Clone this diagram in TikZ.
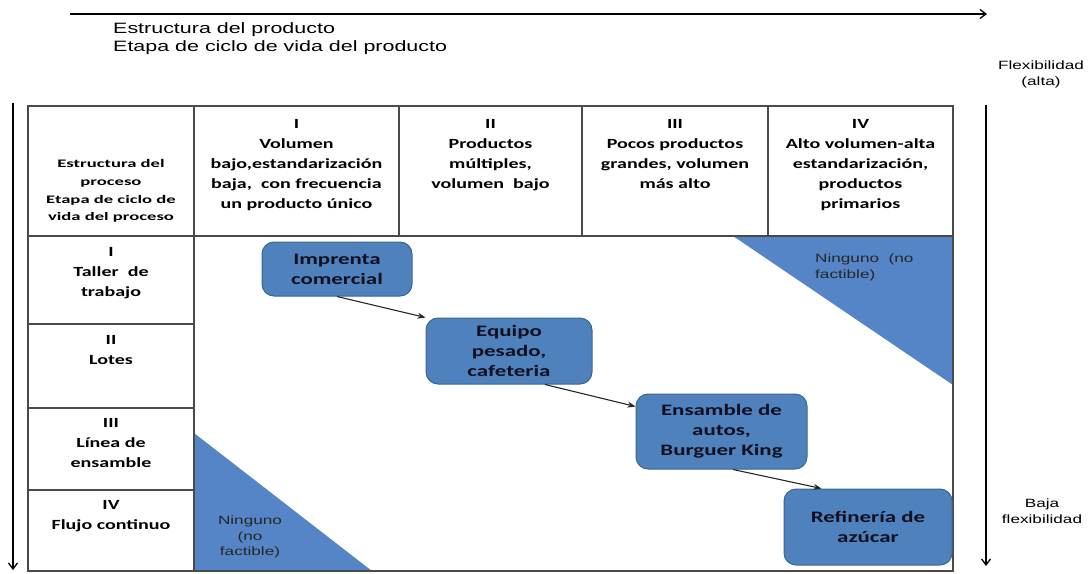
\documentclass[tikz,border=0pt]{standalone}
\usepackage{fontspec}
\setmainfont{Liberation Sans}
\newfontfamily\widesans[FakeStretch=1.43]{Liberation Sans}
\newfontfamily\cellfont[FakeStretch=1.43]{Carlito}
\newfontfamily\cornerfont[FakeStretch=1.62]{Carlito}
\usetikzlibrary{arrows.meta}
\definecolor{boxblue}{HTML}{4F81BD}
\definecolor{boxedge}{HTML}{3A6595}
\definecolor{triblue}{HTML}{5585C6}
\definecolor{gridgray}{HTML}{4A4A4A}
\definecolor{boxtext}{HTML}{101020}
\tikzset{
  gridline/.style={draw=gridgray, line width=1.6pt},
  axis/.style={draw=black, line width=1.3pt, -{Straight Barb[length=6pt,width=9pt,line width=1.3pt]}},
  conn/.style={draw=black!85, line width=1.1pt, -{Stealth[length=8pt,width=6pt]}},
  hdr/.style={anchor=north, align=center, inner sep=0pt,
    font=\cellfont\bfseries\fontsize{14}{20}\selectfont},
  rowlabel/.style={anchor=north, align=center, inner sep=0pt,
    font=\cellfont\bfseries\fontsize{14}{20}\selectfont},
  corner/.style={anchor=south, align=center, inner sep=0pt,
    font=\cornerfont\bfseries\fontsize{11.5}{17.7}\selectfont},
  stage/.style={draw=boxedge, line width=1pt, fill=boxblue, rounded corners=12pt,
    align=center, inner sep=0pt, text=boxtext,
    font=\cellfont\bfseries\fontsize{16}{20}\selectfont},
  notefont/.style={inner sep=0pt, text=black!85,
    font=\widesans\fontsize{12}{15.5}\selectfont},
  toptext/.style={inner sep=0pt, align=left,
    font=\widesans\fontsize{15}{18}\selectfont},
  sidetext/.style={anchor=north, inner sep=0pt, align=center,
    font=\widesans\fontsize{12}{16}\selectfont},
}
\begin{document}
\begin{tikzpicture}[x=1pt, y=-1pt]
\useasboundingbox (0,0) rectangle (1091,573);

% infeasible corners of the matrix
\fill[triblue] (733,236) -- (953,236) -- (953,385) -- cycle;
\fill[triblue] (194,433) -- (194,571) -- (372,571) -- cycle;

% table grid
\draw[gridline] (28,106) rectangle (953,571);
\draw[gridline] (28,236) -- (953,236);
\draw[gridline] (194,106) -- (194,571);
\foreach \cx in {399,582,768} \draw[gridline] (\cx,106) -- (\cx,236);
\foreach \ry in {324,408,490} \draw[gridline] (28,\ry) -- (194,\ry);

% axes
\coordinate (topS) at (70,14);
\coordinate (topE) at (987,14);
\draw[axis] (topS) -- (topE);
\coordinate (leftS) at (13,103);
\coordinate (leftE) at (13,570);
\draw[axis] (leftS) -- (leftE);
\coordinate (rightS) at (986,105);
\coordinate (rightE) at (986,566);
\draw[axis] (rightS) -- (rightE);

\node[toptext, anchor=north west] (prodlabel) at (113,22.5)
  {Estructura del producto\\Etapa de ciclo de vida del producto};
\node[sidetext] (flexhigh) at (1041,61) {Flexibilidad\\(alta)};
\node[sidetext] (flexlow) at (1042,499) {Baja\\flexibilidad};

% header row
\node[corner] (cornercell) at (111,223)
  {Estructura del\\proceso\\Etapa de ciclo de\\vida del proceso};
\node[hdr] (colI) at (296.5,119)
  {I\\Volumen\\bajo,estandarización\\baja,\ \ con frecuencia\\un producto único};
\node[hdr] (colII) at (490.5,119)
  {II\\Productos\\múltiples,\\volumen\ \ bajo};
\node[hdr] (colIII) at (675,119)
  {III\\Pocos productos\\grandes, volumen\\más alto};
\node[hdr] (colIV) at (860.5,119)
  {IV\\Alto volumen-alta\\estandarización,\\productos\\primarios};

% row labels
\node[rowlabel] (rowI) at (111,247) {I\\Taller\ \ de\\trabajo};
\node[rowlabel] (rowII) at (111,335) {II\\Lotes};
\node[rowlabel] (rowIII) at (111,418) {III\\Línea de\\ensamble};
\node[rowlabel] (rowIV) at (111,500) {IV\\Flujo continuo};

% infeasible notes
\node[notefont, anchor=north west, align=left] (noneTR) at (815,254)
  {Ninguno\ \ (no\\factible)};
\node[notefont, anchor=north, align=center] (noneBL) at (250,516)
  {Ninguno\\(no\\factible)};

% process examples along the diagonal
\node[stage, minimum width=150pt, minimum height=54pt] (imp) at (337,269)
  {Imprenta\\comercial};
\node[stage, minimum width=166pt, minimum height=66pt] (eq) at (509,351)
  {Equipo\\pesado,\\cafeteria};
\node[stage, minimum width=171pt, minimum height=75pt] (ens) at (721.5,431.5)
  {Ensamble de\\autos,\\Burguer King};
\node[stage, minimum width=168pt, minimum height=76pt] (ref) at (868,527)
  {Refinería de\\azúcar};

\draw[conn] (imp.south) -- (eq.north west);
\draw[conn] ([xshift=36pt]eq.south) -- ([yshift=-13pt]ens.north west);
\draw[conn] ([xshift=11.5pt]ens.south) -- ([xshift=38pt]ref.north west);
\end{tikzpicture}
\end{document}
